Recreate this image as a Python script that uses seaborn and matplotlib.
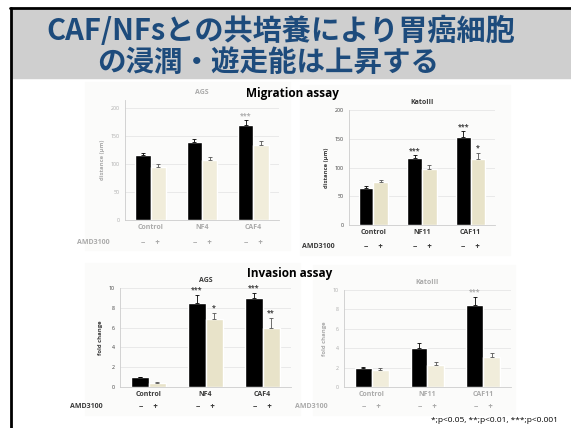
"""
遊走・浸潤アッセイのスライド再現
- 4つの棒グラフ (AMD3100 -/+)
"""

import pandas as pd
import seaborn as sns
import numpy as np
import matplotlib.pyplot as plt
from matplotlib.patches import Rectangle
from matplotlib.lines import Line2D

# データ
amd_levels = ['−', '+']

# 左上 (Migration, AGS, ぼやけた画像)
groups_a = ['Control', 'NF4', 'CAF4']
minus_a = [116, 139, 170]
plus_a = [95, 107, 134]
err_minus_a = [4, 6, 8]
err_plus_a = [4, 5, 6]
stars_minus_a = ['', '', '***']
stars_plus_a = ['', '', '']

# 右上 (Migration, KatoIII)
groups_b = ['Control', 'NF11', 'CAF11']
minus_b = [65, 117, 153]
plus_b = [74, 98, 115]
err_minus_b = [3, 4, 10]
err_plus_b = [5, 6, 10]
stars_minus_b = ['', '***', '***']
stars_plus_b = ['', '', '*']

# 左下 (Invasion, AGS)
groups_c = ['Control', 'NF4', 'CAF4']
minus_c = [1.0, 8.5, 9.0]
plus_c = [0.4, 6.9, 6.0]
err_minus_c = [0.05, 0.8, 0.5]
err_plus_c = [0.1, 0.6, 1.0]
stars_minus_c = ['', '***', '***']
stars_plus_c = ['', '*', '**']

# 右下 (Invasion, KatoIII, ぼやけた画像)
groups_d = ['Control', 'NF11', 'CAF11']
minus_d = [2.0, 4.0, 8.5]
plus_d = [1.8, 2.3, 3.1]
err_minus_d = [0.1, 0.5, 0.8]
err_plus_d = [0.2, 0.3, 0.4]
stars_minus_d = ['', '', '***']
stars_plus_d = ['', '', '']

W, H = 571, 428
BEIGE = '#e8e3c9'
BEIGE_PALE = '#f1eddb'

sns.set_theme(style='white')
plt.rcParams['font.family'] = ['Open Sans', 'Noto Sans CJK JP', 'DejaVu Sans']

fig = plt.figure(figsize=(W / 100, H / 100), dpi=100)
fig.patch.set_facecolor('white')


def fx(x):
    return x / W


def fy(y):
    return 1 - y / H


def box(l, t, r, b):
    return [fx(l), fy(b), (r - l) / W, (b - t) / H]


# タイトル帯と枠線
fig.add_artist(Rectangle((fx(12), fy(78)), (W - 12) / W, 68 / H,
                         transform=fig.transFigure, color='#cfcfcf', zorder=0))
fig.add_artist(Line2D([fx(10), 1], [fy(8), fy(8)], color='black', lw=2,
                      transform=fig.transFigure))
fig.add_artist(Line2D([fx(11), fx(11)], [fy(8), 0], color='black', lw=2,
                      transform=fig.transFigure))
fig.text(fx(281), fy(31), 'CAF/NFsとの共培養により胃癌細胞', ha='center', va='center',
         fontsize=21, fontweight='bold', color='#1d4b7c',
         family=['Noto Sans CJK JP', 'DejaVu Sans'])
fig.text(fx(268), fy(63), 'の浸潤・遊走能は上昇する', ha='center', va='center',
         fontsize=20.5, fontweight='bold', color='#1d4b7c',
         family=['Noto Sans CJK JP', 'DejaVu Sans'])

# 画像の背景
for l, t, r, b in [(85, 82, 290, 250), (300, 85, 510, 255),
                   (85, 263, 300, 415), (313, 265, 515, 415)]:
    fig.add_artist(Rectangle((fx(l), fy(b)), (r - l) / W, (b - t) / H,
                             transform=fig.transFigure, color='#fbfbfa', zorder=0))


def panel(pos, groups, minus, plus, err_m, err_p, st_m, st_p, ylim, yticks,
          title, ylabel, beige, txt):
    ax = fig.add_axes(box(*pos))
    df = pd.DataFrame({
        'group': groups * 2,
        'AMD3100': [amd_levels[0]] * 3 + [amd_levels[1]] * 3,
        'value': minus + plus,
    })
    sns.barplot(data=df, x='group', y='value', hue='AMD3100',
                palette=['black', beige], width=0.6, saturation=1,
                errorbar=None, legend=False, ax=ax)
    errs = [err_m, err_p]
    stars = [st_m, st_p]
    bar_conts = list(ax.containers)
    for i, cont in enumerate(bar_conts):
        for j, bar in enumerate(cont):
            cx = bar.get_x() + bar.get_width() / 2
            h = bar.get_height()
            ax.errorbar(cx, h, yerr=[[0], [errs[i][j]]], color='#555555' if i else 'black',
                        lw=0.6, capsize=1.5, capthick=0.6)
            if stars[i][j]:
                ax.text(cx, h + errs[i][j] + ylim[1] * 0.01, stars[i][j],
                        ha='center', va='bottom', fontsize=5, color=txt,
                        fontweight='bold', clip_on=False)
    ax.set_ylim(*ylim)
    ax.set_xlim(-0.5, 2.5)
    ax.set_yticks(yticks)
    ax.yaxis.grid(True, color='#e2e2e2', lw=0.5)
    ax.set_axisbelow(True)
    ax.set_facecolor('none')
    for s in ['top', 'right']:
        ax.spines[s].set_visible(False)
    for s in ['left', 'bottom']:
        ax.spines[s].set_color('#cccccc')
        ax.spines[s].set_linewidth(0.6)
    ax.tick_params(axis='y', labelsize=3.8, colors=txt, length=0, pad=4)
    ax.tick_params(axis='x', labelsize=5, colors=txt, length=0, pad=3)
    for lab in ax.get_xticklabels():
        lab.set_fontweight('bold')
    ax.set_xlabel('')
    ax.set_ylabel(ylabel, fontsize=4.2, color=txt, fontweight='bold', labelpad=4)
    ax.set_title(title, fontsize=5, color=txt, fontweight='bold', pad=4)
    for k in range(3):
        ax.text(k, -0.15, '−     +', transform=ax.get_xaxis_transform(),
                ha='center', va='top', fontsize=5.5, color=txt, fontweight='bold')
    ax.text(-0.1, -0.16, 'AMD3100', transform=ax.transAxes, ha='right', va='top',
            fontsize=5, color=txt, fontweight='bold')
    return ax


panel((125, 100, 279, 220), groups_a, minus_a, plus_a, err_minus_a, err_plus_a,
      stars_minus_a, stars_plus_a, (0, 214), [0, 50, 100, 150, 200],
      'AGS', 'distance (μm)', BEIGE_PALE, '#aaaaaa')
panel((349, 110, 495, 225), groups_b, minus_b, plus_b, err_minus_b, err_plus_b,
      stars_minus_b, stars_plus_b, (0, 200), [0, 50, 100, 150, 200],
      'KatoIII', 'distance (μm)', BEIGE, '#3a3a3a')
panel((120, 288, 291, 387), groups_c, minus_c, plus_c, err_minus_c, err_plus_c,
      stars_minus_c, stars_plus_c, (0, 10), [0, 2, 4, 6, 8, 10],
      'AGS', 'fold change', BEIGE, '#3a3a3a')
panel((344, 290, 511, 387), groups_d, minus_d, plus_d, err_minus_d, err_plus_d,
      stars_minus_d, stars_plus_d, (0, 10), [0, 2, 4, 6, 8, 10],
      'KatoIII', 'fold change', BEIGE_PALE, '#aaaaaa')

# 見出し
fig.text(fx(292), fy(93), 'Migration assay', ha='center', va='center',
         fontsize=8.5, fontweight='bold', color='black')
fig.text(fx(290), fy(273), 'Invasion assay', ha='center', va='center',
         fontsize=8.5, fontweight='bold', color='black')
fig.text(fx(558), fy(421), '*;p<0.05, **;p<0.01, ***;p<0.001', ha='right', va='center',
         fontsize=6, color='black')

fig.savefig('out.png', dpi=100)
